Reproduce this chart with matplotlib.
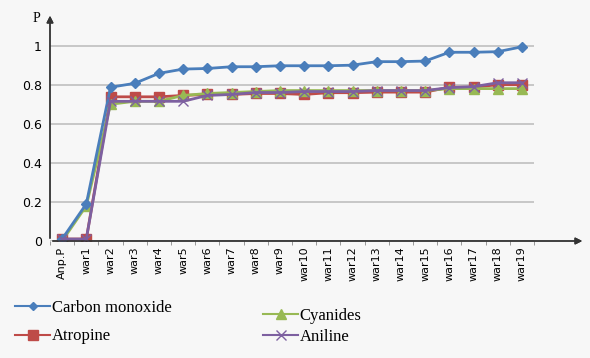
import matplotlib.pyplot as plt
from matplotlib.lines import Line2D

categories = ["Anp.P"] + ["war%d" % i for i in range(1, 20)]

carbon_monoxide = [0.01, 0.19, 0.787, 0.807, 0.858, 0.88, 0.883, 0.892, 0.892, 0.897,
                   0.897, 0.897, 0.90, 0.918, 0.918, 0.921, 0.966, 0.966, 0.969, 0.994]
atropine = [0.01, 0.01, 0.738, 0.738, 0.738, 0.745, 0.75, 0.75, 0.755, 0.755,
            0.75, 0.759, 0.759, 0.762, 0.762, 0.762, 0.787, 0.787, 0.800, 0.800]
cyanides = [0.0, 0.18, 0.70, 0.715, 0.715, 0.745, 0.755, 0.76, 0.765, 0.77,
            0.77, 0.77, 0.77, 0.77, 0.77, 0.77, 0.78, 0.78, 0.78, 0.78]
aniline = [0.01, 0.01, 0.715, 0.715, 0.715, 0.715, 0.745, 0.75, 0.76, 0.76,
           0.765, 0.765, 0.765, 0.77, 0.77, 0.77, 0.785, 0.79, 0.81, 0.81]

bg = "#f7f7f7"
fig = plt.figure(figsize=(5.9, 3.58), dpi=100, facecolor=bg)
ax = fig.add_axes([50 / 590, 117 / 358, 484 / 590, 211 / 358], facecolor=bg)

x = range(len(categories))
ax.plot(x, carbon_monoxide, color="#4a7ebb", marker="D", markersize=5, lw=2, zorder=5)
ax.plot(x, atropine, color="#be4b48", marker="s", markersize=7, lw=2, zorder=3)
ax.plot(x, cyanides, color="#98b954", marker="^", markersize=7, lw=2, zorder=4)
ax.plot(x, aniline, color="#7d60a0", marker="x", markersize=7, mew=1, lw=2, zorder=6)

ax.set_xlim(-0.5, 19.5)
ax.set_ylim(0, 1.08)
ax.set_yticks([0, 0.2, 0.4, 0.6, 0.8, 1])
ax.set_yticklabels(["0", "0.2", "0.4", "0.6", "0.8", "1"], fontsize=9)
ax.yaxis.grid(True, color="#bfbfbf", lw=1.2)
ax.set_axisbelow(True)

ax.set_xticks(list(x))
ax.set_xticklabels(categories, rotation=90, fontsize=8)
ax.set_xticks([i + 0.5 for i in range(-1, 20)], minor=True)
ax.tick_params(axis="x", which="major", length=0, pad=4)
ax.tick_params(axis="x", which="minor", length=3, color="#888888")
ax.tick_params(axis="y", length=0, pad=6)

for s in ["top", "right", "bottom", "left"]:
    ax.spines[s].set_visible(False)

# axes with arrows
fig.add_artist(plt.annotate("", xy=(585 / 590, 117 / 358), xytext=(50 / 590, 117 / 358),
                            xycoords="figure fraction",
                            arrowprops=dict(arrowstyle="-|>", color="#333333", lw=1,
                                            mutation_scale=10)))
fig.add_artist(plt.annotate("", xy=(50 / 590, 345 / 358), xytext=(50 / 590, 117 / 358),
                            xycoords="figure fraction",
                            arrowprops=dict(arrowstyle="-|>", color="#333333", lw=1,
                                            mutation_scale=10)))
fig.text(33 / 590, 339 / 358, "P", fontsize=10, family="Liberation Serif", va="center")

# legend
def handle(color, marker, ms):
    return Line2D([], [], color=color, marker=marker, markersize=ms, lw=1.5)

left = fig.legend([handle("#4a7ebb", "D", 4), handle("#be4b48", "s", 7)],
                  ["Carbon monoxide", "Atropine"], loc="upper left",
                  bbox_to_anchor=(0 / 590, 1 - 285 / 358), frameon=False,
                  prop={"family": "Liberation Serif", "size": 12},
                  handlelength=2.1, handletextpad=0.1, labelspacing=0.75)
right = fig.legend([handle("#98b954", "^", 7), handle("#7d60a0", "x", 7)],
                   ["Cyanides", "Aniline"], loc="upper left",
                   bbox_to_anchor=(248 / 590, 1 - 293 / 358), frameon=False,
                   prop={"family": "Liberation Serif", "size": 12},
                   handlelength=2.1, handletextpad=0.1, labelspacing=0.3)

fig.savefig("out.png", dpi=100, facecolor=bg)
